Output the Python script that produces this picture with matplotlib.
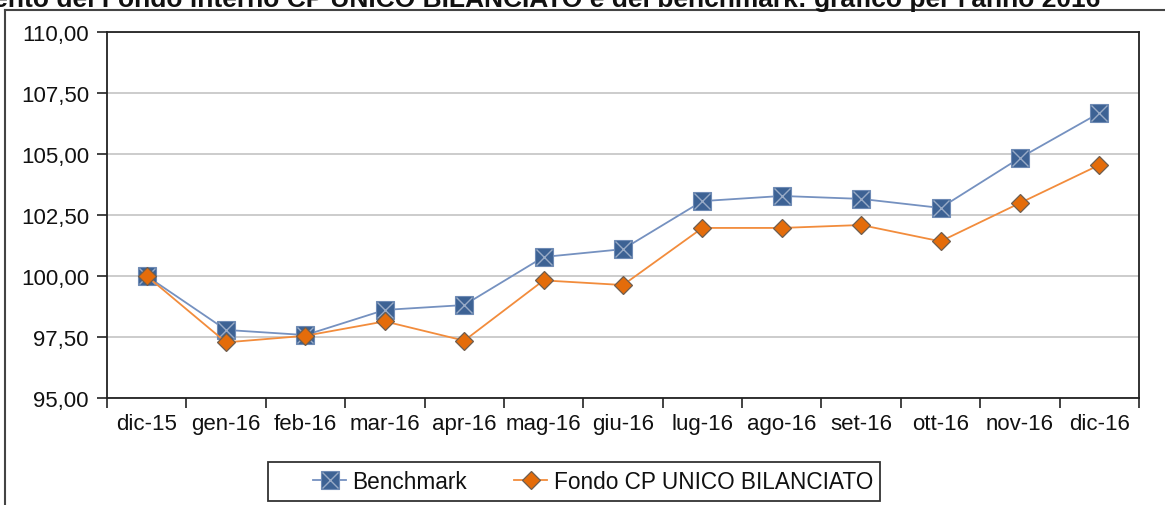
import matplotlib.pyplot as plt
from matplotlib.lines import Line2D
from matplotlib.patches import Rectangle
from matplotlib.ticker import FixedLocator, FuncFormatter

plt.rcParams['font.family'] = ['Liberation Sans', 'DejaVu Sans']

months = ['dic-15', 'gen-16', 'feb-16', 'mar-16', 'apr-16', 'mag-16', 'giu-16',
          'lug-16', 'ago-16', 'set-16', 'ott-16', 'nov-16', 'dic-16']
benchmark = [100.00, 97.79, 97.58, 98.61, 98.81, 100.78, 101.10,
             103.07, 103.28, 103.16, 102.79, 104.84, 106.68]
fondo = [100.00, 97.28, 97.55, 98.14, 97.35, 99.82, 99.63,
         101.97, 101.97, 102.09, 101.42, 102.99, 104.55]
yticks = [95.0, 97.5, 100.0, 102.5, 105.0, 107.5, 110.0]

W, H = 1165, 506
fig = plt.figure(figsize=(W / 100, H / 100), dpi=100)
ax = fig.add_axes([107 / W, 1 - 399 / H, (1139 - 107) / W, (399 - 33) / H])

x = list(range(len(months)))

# benchmark: blue square with a light cross inside
ax.plot(x, benchmark, color='#7591c0', lw=1.3, marker='s', ms=12.5,
        mfc='#3d6294', mec='#6f8bb5', mew=0.8, zorder=3)
ax.plot(x, benchmark, ls='none', marker='x', ms=11, mec='#98aac6', mew=1.0, zorder=4)
# fondo: orange diamond
ax.plot(x, fondo, color='#f28c3c', lw=1.3, marker='D', ms=9.5,
        mfc='#e46c0a', mec='#6e5e50', mew=0.9, zorder=5)

ax.set_xlim(-0.5, len(months) - 0.5)
ax.set_ylim(95, 110)
ax.set_yticks(yticks)
ax.yaxis.set_major_formatter(FuncFormatter(lambda v, p: f'{v:.2f}'.replace('.', ',')))
ax.set_xticks(x)
ax.set_xticklabels(months)
ax.xaxis.set_minor_locator(FixedLocator([i - 0.5 for i in range(len(months) + 1)]))
ax.tick_params(axis='x', which='major', length=0, pad=11, labelsize=16, colors='#111111')
ax.tick_params(axis='x', which='minor', length=7, width=1.2, color='#222222')
ax.tick_params(axis='y', length=7, width=1.2, pad=6, labelsize=16,
               color='#222222', labelcolor='#111111')
ax.grid(axis='y', color='#c8c8c8', lw=1.3)
ax.set_axisbelow(True)
for s in ax.spines.values():
    s.set_color('#222222')
    s.set_linewidth(1.3)

# outer chart frame (left and top edges visible)
fig.add_artist(Line2D([5 / W, 5 / W], [0, 1 - 11 / H], transform=fig.transFigure,
                      color='#444444', lw=1.5))
fig.add_artist(Line2D([5 / W, 1], [1 - 11 / H, 1 - 11 / H], transform=fig.transFigure,
                      color='#444444', lw=1.5))

# title, cut off at the top of the image
fig.text(1100 / W, 1 - 7 / H,
         "Andamento del Fondo interno CP UNICO BILANCIATO e del benchmark: grafico per l'anno 2016",
         ha='right', va='baseline', fontsize=19, fontweight='bold', color='#111111')

# legend box
fig.add_artist(Rectangle((268 / W, 1 - 502 / H), 612 / W, 39 / H, transform=fig.transFigure,
                         fill=False, edgecolor='#333333', lw=1.3))
h_bench = (Line2D([], [], color='#7591c0', lw=1.3, marker='s', ms=12.5,
                  mfc='#3d6294', mec='#6f8bb5', mew=0.8),
           Line2D([], [], ls='none', marker='x', ms=11, mec='#98aac6', mew=1.0))
h_fondo = Line2D([], [], color='#f28c3c', lw=1.3, marker='D', ms=9.5,
                 mfc='#e46c0a', mec='#6e5e50', mew=0.9)
fig.legend([h_bench, h_fondo], ['Benchmark', 'Fondo CP UNICO BILANCIATO'],
           loc='center', bbox_to_anchor=(593 / W, 1 - 482.5 / H), ncol=2,
           fontsize=16.3, frameon=False, handlelength=1.45, handletextpad=0.28,
           columnspacing=2.1, labelcolor='#111111')

fig.savefig('out.png', dpi=100)
